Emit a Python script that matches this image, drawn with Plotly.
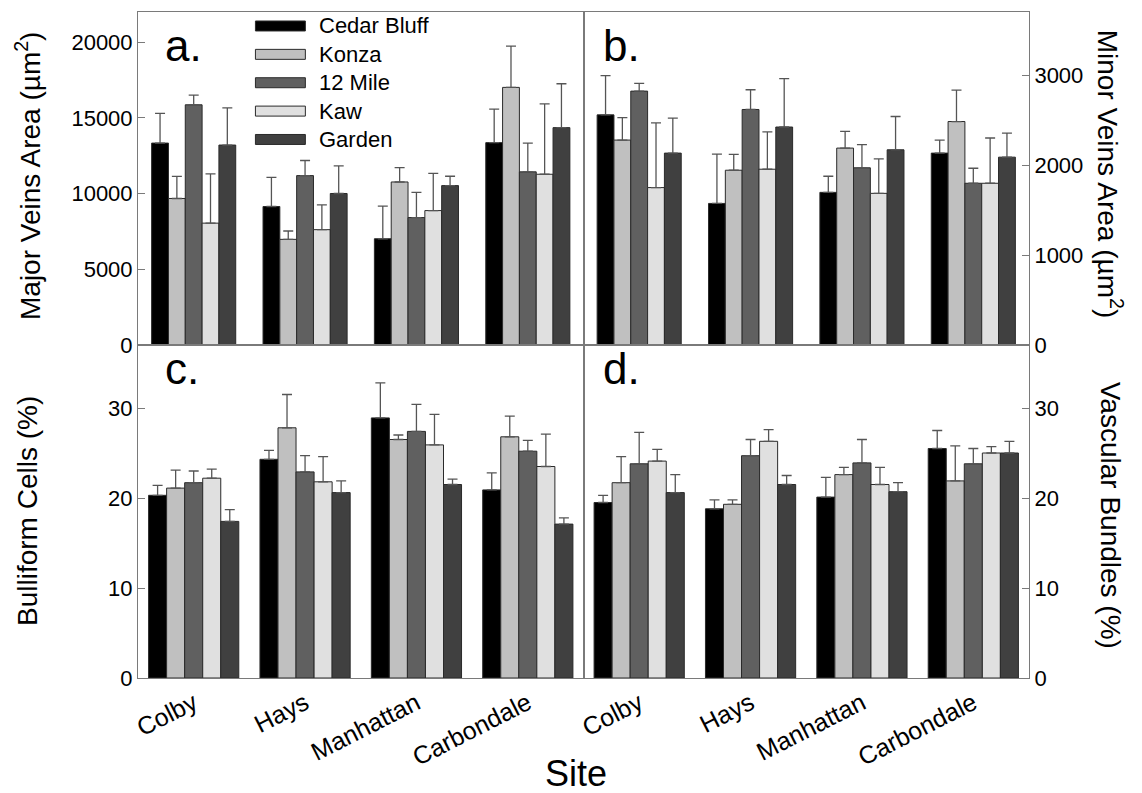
import plotly.graph_objects as go
from plotly.subplots import make_subplots

sites = ["Colby", "Hays", "Manhattan", "Carbondale"]
series = ["Cedar Bluff", "Konza", "12 Mile", "Kaw", "Garden"]
colors = ["#000000", "#c0c0c0", "#606060", "#e0e0e0", "#404040"]

# rows = series (Cedar Bluff, Konza, 12 Mile, Kaw, Garden), cols = sites
major_mean = [[13340, 9150, 7020, 13370],
              [9680, 6980, 10770, 17020],
              [15870, 11190, 8420, 11440],
              [8050, 7620, 8880, 11280],
              [13210, 10010, 10530, 14360]]
major_err = [[1960, 1930, 2150, 2210],
             [1460, 550, 950, 2730],
             [640, 1000, 1660, 1900],
             [3250, 1640, 2460, 4650],
             [2460, 1830, 620, 2900]]

minor_mean = [[2557, 1573, 1696, 2132],
              [2277, 1942, 2188, 2483],
              [2821, 2617, 1969, 1797],
              [1749, 1953, 1685, 1797],
              [2132, 2422, 2169, 2087]]
minor_err = [[435, 548, 179, 145],
             [250, 175, 186, 349],
             [86, 219, 257, 167],
             [718, 414, 384, 503],
             [388, 537, 370, 268]]

bulli_mean = [[20.3, 24.3, 28.9, 20.9],
              [21.1, 27.8, 26.5, 26.8],
              [21.7, 22.9, 27.4, 25.2],
              [22.2, 21.8, 25.9, 23.5],
              [17.4, 20.6, 21.5, 17.1]]
bulli_err = [[1.1, 1.0, 3.9, 1.9],
             [2.0, 3.7, 0.5, 2.3],
             [1.3, 1.8, 3.0, 1.2],
             [1.0, 2.8, 3.4, 3.6],
             [1.3, 1.3, 0.6, 0.7]]

vasc_mean = [[19.5, 18.8, 20.1, 25.5],
             [21.7, 19.3, 22.6, 21.9],
             [23.8, 24.7, 23.9, 23.8],
             [24.1, 26.3, 21.5, 25.0],
             [20.6, 21.5, 20.7, 25.0]]
vasc_err = [[0.8, 1.0, 2.2, 2.0],
            [2.9, 0.5, 0.8, 3.9],
            [3.5, 1.8, 2.6, 1.7],
            [1.3, 1.3, 1.9, 0.7],
            [2.0, 1.0, 1.0, 1.3]]

FONT = "Liberation Sans, Arial, sans-serif"
FRAME = "#7a7a7a"

fig = make_subplots(rows=2, cols=2, horizontal_spacing=0, vertical_spacing=0)

panels = [
    (1, 1, major_mean, major_err, 0.151),
    (1, 2, minor_mean, minor_err, 0.151),
    (2, 1, bulli_mean, bulli_err, 0.162),
    (2, 2, vasc_mean, vasc_err, 0.162),
]

for r, c, means, errs, w in panels:
    for i, name in enumerate(series):
        fig.add_trace(go.Bar(
            x=sites, y=means[i], name=name,
            width=w, offset=-2.5 * w + i * w,
            marker=dict(color=colors[i], line=dict(color="#2a2a2a", width=1)),
            error_y=dict(type="data", symmetric=False, array=errs[i],
                         arrayminus=[0] * len(sites),
                         color="#555555", thickness=1.3, width=5),
            showlegend=False,
        ), row=r, col=c)

axis_common = dict(showline=True, mirror=True, linecolor=FRAME, linewidth=1,
                   showgrid=False, zeroline=False)

for k in range(1, 5):
    fig.layout[f"xaxis{'' if k == 1 else k}"].update(
        **axis_common, ticks="", type="category",
        showticklabels=(k >= 3), tickangle=-27,
        tickfont=dict(family=FONT, size=25, color="#000000"))

ytick = dict(ticks="inside", ticklen=7, tickcolor=FRAME, tickformat="d",
             tickfont=dict(family=FONT, size=22, color="#000000"))
fig.update_layout(
    yaxis=dict(**axis_common, **ytick, range=[0, 22000], tickvals=[0, 5000, 10000, 15000, 20000]),
    yaxis2=dict(**axis_common, **ytick, side="right", range=[0, 3700], tickvals=[0, 1000, 2000, 3000]),
    yaxis3=dict(**axis_common, **ytick, range=[0, 37], tickvals=[0, 10, 20, 30]),
    yaxis4=dict(**axis_common, **ytick, side="right", range=[0, 37], tickvals=[0, 10, 20, 30]),
)

annotations = []
# Panel letters
for ax, letter in [("", "a."), ("2", "b."), ("3", "c."), ("4", "d.")]:
    ytop = letter in ("a.", "b.")
    annotations.append(dict(
        text=letter, xref=f"x{ax} domain", yref=f"y{ax} domain",
        x=0.055 if letter in ("a.", "c.") else 0.04, y=0.9 if ytop else 0.928,
        xanchor="left", yanchor="middle", showarrow=False,
        font=dict(family=FONT, size=44, color="#000000")))

# Custom legend in panel a
leg_top = 0.958
leg_step = 0.0852
for i, name in enumerate(series):
    yc = leg_top - i * leg_step
    fig.add_shape(type="rect", xref="x domain", yref="y domain",
                  x0=0.2636, x1=0.3757, y0=yc - 0.015, y1=yc + 0.015,
                  fillcolor=colors[i], line=dict(color="#2a2a2a", width=1))
    annotations.append(dict(
        text=name, xref="x domain", yref="y domain", x=0.402, y=yc,
        xanchor="left", yanchor="middle", showarrow=False,
        font=dict(family=FONT, size=22, color="#000000")))

# Axis titles
title_font = dict(family=FONT, size=28, color="#000000")
annotations += [
    dict(text="Major Veins Area (\u00b5m<sup>2</sup>)", xref="paper", yref="paper",
         x=-0.124, y=0.753, textangle=-90, showarrow=False, font=title_font,
         xanchor="center", yanchor="middle"),
    dict(text="Bulliform Cells (%)", xref="paper", yref="paper",
         x=-0.124, y=0.25, textangle=-90, showarrow=False, font=title_font,
         xanchor="center", yanchor="middle"),
    dict(text="Minor Veins Area (\u00b5m<sup>2</sup>)", xref="paper", yref="paper",
         x=1.091, y=0.757, textangle=90, showarrow=False, font=title_font,
         xanchor="center", yanchor="middle"),
    dict(text="Vascular Bundles (%)", xref="paper", yref="paper",
         x=1.091, y=0.245, textangle=90, showarrow=False, font=title_font,
         xanchor="center", yanchor="middle"),
    dict(text="Site", xref="paper", yref="paper", x=0.492, y=-0.143,
         showarrow=False, font=dict(family=FONT, size=36, color="#000000"),
         xanchor="center", yanchor="middle"),
]

fig.update_layout(
    width=1142, height=793,
    margin=dict(l=138, r=113, t=12, b=115),
    plot_bgcolor="#ffffff", paper_bgcolor="#ffffff",
    barmode="overlay", showlegend=False,
    annotations=annotations,
    font=dict(family=FONT, color="#000000"),
)

fig.write_html("out.html", config={"displayModeBar": False},
               post_script="document.body.style.margin='0';document.body.style.overflow='hidden';")
